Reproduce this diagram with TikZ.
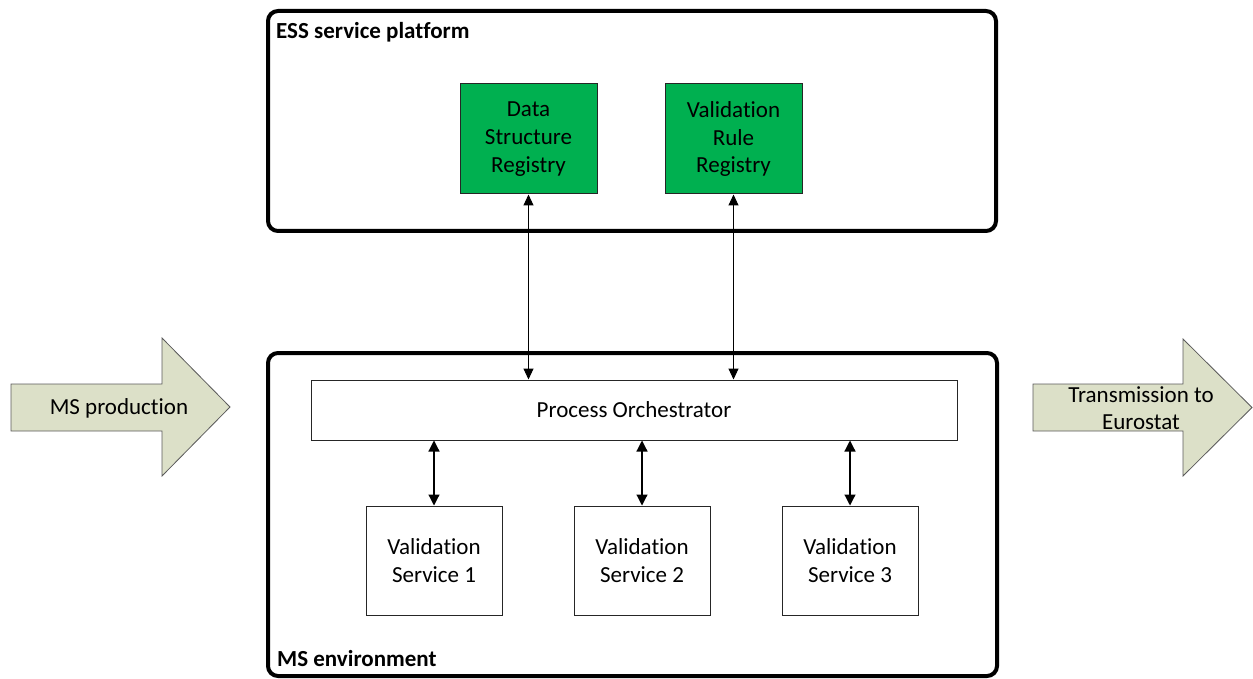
\documentclass[tikz,border=0pt]{standalone}
\usepackage{fontspec}
\setmainfont{Carlito}[RawFeature={-liga;-clig;-dlig}]
\usetikzlibrary{arrows.meta}
\definecolor{regGreen}{HTML}{00B050}
\definecolor{bigArrow}{HTML}{DCE0C8}
\definecolor{bigArrowLine}{HTML}{5A5A5A}
\newcommand\noligti{t\kern0pt i}
\begin{document}
\begin{tikzpicture}[x=1pt,y=-1pt,
  txt/.style={font=\fontsize{23}{27.6}\selectfont, align=center},
  box/.style={txt, draw=black!85, line width=1pt, inner sep=0pt},
  regbox/.style={box, fill=regGreen, minimum width=137pt, minimum height=110pt},
  svcbox/.style={box, fill=white, minimum width=136pt, minimum height=109pt},
  container/.style={draw=black, line width=4pt, rounded corners=10pt, inner sep=0pt},
  title/.style={font=\fontsize{23}{27.6}\selectfont\bfseries, inner sep=0pt, anchor=base west},
  biarrow/.style={{Triangle[length=11pt,width=11pt]}-{Triangle[length=11pt,width=11pt]}, line width=1.2pt},
  thinbiarrow/.style={{Triangle[length=11pt,width=10pt]}-{Triangle[length=11pt,width=10pt]}, line width=1pt},
  bigarrow/.style={fill=bigArrow, draw=bigArrowLine, line width=0.8pt}
]
\useasboundingbox (0,0) rectangle (1253,679);

% containers
\node[container, minimum width=728pt, minimum height=220pt] (ess) at (632,121) {};
\node[container, minimum width=729pt, minimum height=323pt] (ms) at (632.5,514.5) {};
\node[title] (esstitle) at (276,39) {ESS service platform};
\node[title] (mstitle) at (277,666) {MS environment};

% registries
\node[regbox] (dsr) at (528.5,139) {Data\\Structure\\Registry};
\node[regbox] (vrr) at (733.5,139) {Valida\noligti on\\Rule\\Registry};

% orchestrator
\node[box, fill=white, minimum width=646pt, minimum height=60pt] (po) at (634,410) {Process Orchestrator};

% services
\node[svcbox] (vs1) at (434,560.5) {Valida\noligti on\\Service 1};
\node[svcbox] (vs2) at (642,560.5) {Valida\noligti on\\Service 2};
\node[svcbox] (vs3) at (850,560.5) {Valida\noligti on\\Service 3};

% connectors
\draw[thinbiarrow] (dsr.south) -- (dsr.south |- po.north);
\draw[thinbiarrow] (vrr.south) -- (vrr.south |- po.north);
\draw[biarrow] (po.south -| vs1.north) -- (vs1.north);
\draw[biarrow] (po.south -| vs2.north) -- (vs2.north);
\draw[biarrow] (po.south -| vs3.north) -- (vs3.north);

% big arrows
\draw[bigarrow] (11,384) -- (162,384) -- (162,338) -- (230,407) -- (162,476) -- (162,431) -- (11,431) -- cycle;
\node[txt] (msprod) at (119,408) {MS produc\noligti on};
\draw[bigarrow] (1033,384) -- (1183,384) -- (1183,339) -- (1252,407.5) -- (1183,476) -- (1183,431) -- (1033,431) -- cycle;
\node[txt] (trans) at (1141,408) {Transmission to\\Eurostat};
\end{tikzpicture}
\end{document}
